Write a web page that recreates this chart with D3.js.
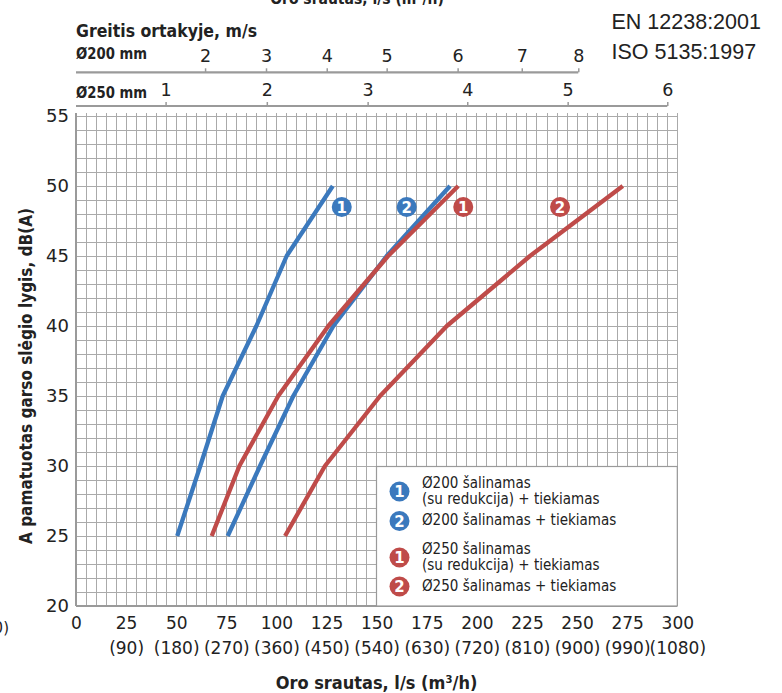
<!DOCTYPE html>
<html>
<head>
<meta charset="utf-8">
<script src="https://cdn.jsdelivr.net/npm/d3@7"></script>
<style>
  html, body { margin: 0; padding: 0; background: #fff; }
  svg { display: block; }
  .cond { font-family: "DejaVu Sans Condensed", "DejaVu Sans", sans-serif; font-stretch: condensed; }
  .num { font-family: "DejaVu Sans", sans-serif; }
</style>
</head>
<body>
<script>
// ---------------- data ----------------
const flowTicks = [0, 25, 50, 75, 100, 125, 150, 175, 200, 225, 250, 275, 300];
const flowTicksM3h = ["", "(90)", "(180)", "(270)", "(360)", "(450)", "(540)", "(630)", "(720)", "(810)", "(900)", "(990)", "(1080)"];
const dbTicks = [20, 25, 30, 35, 40, 45, 50, 55];

// velocity axes: tick labels and their position on the flow (l/s) axis
const v200Labels = ["2", "3", "4", "5", "6", "7", "8"];
const v200Flow   = [64.4, 94.8, 125.1, 155.0, 190.4, 222.4, 250.6];
const v250Labels = ["1", "2", "3", "4", "5", "6"];
const v250Flow   = [44.7, 95.2, 145.5, 195.2, 245.3, 295.0];

// series: sound level (dB(A)) vs flow (l/s)
const dbLevels  = [25, 30, 35, 40, 45, 50];
const d200_1    = [50.5, 62, 73.2, 90, 105.1, 128.1];
const d200_2    = [75.7, 91.8, 108.4, 128.4, 155, 186.6];
const d250_1    = [67.7, 81.5, 100.9, 125.9, 155.7, 190.7];
const d250_2    = [104.3, 124.2, 151.7, 185, 226.5, 272.8];

const seriesNames = ["Ø200 šalinamas|(su redukcija) + tiekiamas", "Ø200 šalinamas + tiekiamas",
                     "Ø250 šalinamas|(su redukcija) + tiekiamas", "Ø250 šalinamas + tiekiamas"];
const seriesNums  = ["1", "2", "1", "2"];
const markerFlow  = [132.6, 165, 193.2, 241.5];
const markerDb    = [48.5, 48.5, 48.5, 48.5];

const BLUE = "#3b79bd", RED = "#bf4b49";
const seriesColors = [BLUE, BLUE, RED, RED];
const seriesData = [d200_1, d200_2, d250_1, d250_2];

// ---------------- drawing ----------------
const W = 782, H = 693;
const svg = d3.select("body").append("svg").attr("width", W).attr("height", H);

const x = d3.scaleLinear().domain([0, 300]).range([76, 677.3]);
const y = d3.scaleLinear().domain([20, 55]).range([606, 116]);

const GRID = "#aaaaaa", AX = "#9a9a9a", TXT = "#222";

// grid
const grid = svg.append("g").attr("shape-rendering", "crispEdges");
grid.selectAll("line.v").data(d3.range(0, 301, 5)).join("line")
  .attr("x1", d => x(d)).attr("x2", d => x(d))
  .attr("y1", y(55) - 3).attr("y2", y(20))
  .attr("stroke", GRID).attr("stroke-width", 1);
grid.selectAll("line.h").data(d3.range(20, 56, 1)).join("line")
  .attr("x1", x(0)).attr("x2", x(300))
  .attr("y1", d => y(d)).attr("y2", d => y(d))
  .attr("stroke", GRID).attr("stroke-width", 1);
grid.append("line").attr("x1", x(0)).attr("x2", x(0)).attr("y1", y(55) - 3).attr("y2", y(20))
  .attr("stroke", AX).attr("stroke-width", 2);
grid.append("line").attr("x1", x(0)).attr("x2", x(300)).attr("y1", y(20)).attr("y2", y(20))
  .attr("stroke", AX).attr("stroke-width", 2);

// bottom axis (l/s)
const xAxis = d3.axisBottom(x).tickValues(flowTicks).tickSize(0).tickPadding(0).tickFormat(d3.format("d"));
const gx = svg.append("g").attr("transform", `translate(0,${y(20)})`).call(xAxis);
gx.select(".domain").remove();
gx.selectAll("text").attr("class", "num").attr("dy", null).attr("y", 23)
  .style("font-size", "17px").attr("fill", TXT);

const xAxis2 = d3.axisBottom(x).tickValues(flowTicks).tickSize(0)
  .tickFormat((d, i) => flowTicksM3h[i]);
const gx2 = svg.append("g").attr("transform", `translate(0,${y(20)})`).call(xAxis2);
gx2.select(".domain").remove();
gx2.selectAll("text").attr("class", "num").attr("dy", null).attr("y", 48)
  .style("font-size", "17px").attr("fill", TXT);

// left axis
const yAxis = d3.axisLeft(y).tickValues(dbTicks).tickSize(0).tickPadding(7);
const gy = svg.append("g").attr("transform", `translate(${x(0)},0)`).call(yAxis);
gy.select(".domain").remove();
gy.selectAll("text").attr("class", "num").style("font-size", "18px").attr("fill", TXT);

// top velocity axes
function velAxis(yPos, labels, flows) {
  const ax = d3.axisTop(x).tickValues(flows).tickSize(4).tickPadding(6)
    .tickFormat((d, i) => labels[i]);
  const g = svg.append("g").attr("transform", `translate(0,${yPos})`).call(ax);
  g.select(".domain").remove();
  g.append("line").attr("x1", x(0)).attr("x2", x(flows[flows.length - 1]))
    .attr("y1", 0).attr("y2", 0).attr("stroke", AX).attr("stroke-width", 2.2);
  g.selectAll(".tick line").attr("stroke", AX).attr("stroke-width", 1.5);
  g.selectAll("text").attr("class", "num").style("font-size", "17.5px").attr("fill", TXT);
  return g;
}
velAxis(72.3, v200Labels, v200Flow);
velAxis(106, v250Labels, v250Flow);

svg.append("text").attr("class", "cond").attr("x", 76).attr("y", 37)
  .style("font-size", "18px").style("font-weight", "bold").attr("fill", TXT)
  .attr("textLength", 181).attr("lengthAdjust", "spacingAndGlyphs")
  .text("Greitis ortakyje, m/s");
svg.append("text").attr("class", "cond").attr("x", 76).attr("y", 59)
  .style("font-size", "15.5px").style("font-weight", "bold").attr("fill", TXT)
  .attr("textLength", 71).attr("lengthAdjust", "spacingAndGlyphs")
  .text("Ø200 mm");
svg.append("text").attr("class", "cond").attr("x", 76).attr("y", 97.5)
  .style("font-size", "15.5px").style("font-weight", "bold").attr("fill", TXT)
  .attr("textLength", 71).attr("lengthAdjust", "spacingAndGlyphs")
  .text("Ø250 mm");

// top title, partly cut at the top edge as in the reference
svg.append("text").attr("class", "cond").attr("x", 357).attr("y", 3.5)
  .attr("text-anchor", "middle")
  .style("font-size", "15.5px").style("font-weight", "bold").attr("fill", TXT)
  .text("Oro srautas, l/s (m³/h)");

// standards
svg.append("text").attr("x", 611.5).attr("y", 29.3)
  .style("font-family", "'Liberation Sans', Arial, sans-serif").style("font-size", "21.5px").attr("fill", TXT)
  .text("EN 12238:2001");
svg.append("text").attr("x", 611.5).attr("y", 59.3)
  .style("font-family", "'Liberation Sans', Arial, sans-serif").style("font-size", "21.5px").attr("fill", TXT)
  .text("ISO 5135:1997");

// bottom title
svg.append("text").attr("class", "cond").attr("x", 376.5).attr("y", 689)
  .attr("text-anchor", "middle")
  .style("font-size", "18px").style("font-weight", "bold").attr("fill", TXT)
  .text("Oro srautas, l/s (m³/h)");

// y title
svg.append("text").attr("class", "cond")
  .attr("transform", "translate(31.5,376) rotate(-90)")
  .attr("text-anchor", "middle")
  .style("font-size", "17px").style("font-weight", "bold").attr("fill", TXT)
  .text("A pamatuotas garso slėgio lygis, dB(A)");

// stray label at left edge, partly cut as in the reference
svg.append("text").attr("class", "num").attr("x", 9).attr("y", 633)
  .attr("text-anchor", "end").style("font-size", "15px").attr("fill", TXT).text("(0)");

// series lines
const line = d3.line().x(d => x(d[0])).y(d => y(d[1]));
seriesData.forEach((arr, i) => {
  svg.append("path")
    .datum(arr.map((f, j) => [f, dbLevels[j]]))
    .attr("d", line)
    .attr("fill", "none").attr("stroke", seriesColors[i])
    .attr("stroke-width", 4.3).attr("stroke-linejoin", "round");
});

// numbered markers
function numMarker(parent, cx, cy, num, color) {
  const g = parent.append("g");
  g.append("circle").attr("cx", cx).attr("cy", cy).attr("r", 10).attr("fill", color);
  g.append("text").attr("x", cx).attr("y", cy + 5.5).attr("text-anchor", "middle")
    .style("font-family", "'DejaVu Sans', sans-serif").style("font-weight", "bold")
    .style("font-size", "15px").attr("fill", "#fff").text(num);
}
markerFlow.forEach((f, i) => numMarker(svg, x(f), y(markerDb[i]), seriesNums[i], seriesColors[i]));

// legend
const lg = svg.append("g");
lg.append("rect").attr("x", 376.5).attr("y", 466.5).attr("width", 300.8).attr("height", 139.5)
  .attr("fill", "#fff").attr("stroke", AX).attr("stroke-width", 1.2);
const legCircleY = [491.5, 521, 557.5, 586.5];
const legTextY = [487.5, 525, 553.5, 591];
seriesNames.forEach((name, i) => {
  numMarker(lg, 399.5, legCircleY[i], seriesNums[i], seriesColors[i]);
  name.split("|").forEach((p, k) => {
    lg.append("text").attr("class", "cond").attr("x", 422).attr("y", legTextY[i] + k * 16.5)
      .style("font-size", "15px").attr("fill", TXT).text(p);
  });
});
grid.lower();
</script>
</body>
</html>
